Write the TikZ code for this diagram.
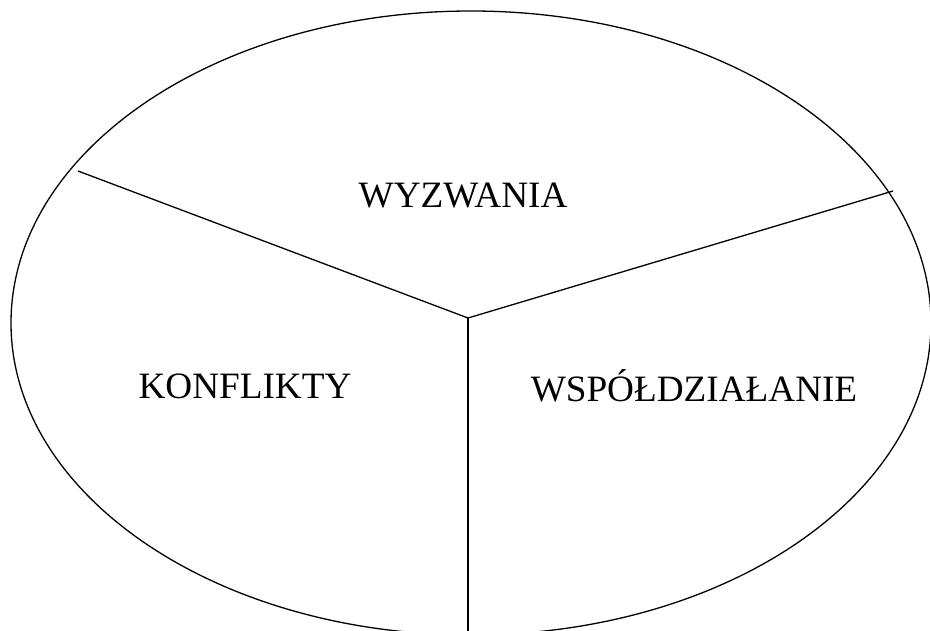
\documentclass[tikz,border=0pt]{standalone}
\usepackage{fontspec}
\setmainfont{Liberation Serif}
\usetikzlibrary{positioning}

\begin{document}
\begin{tikzpicture}[x=1pt,y=-1pt,line width=1.3pt,
    label/.style={font=\fontsize{37.2}{44}\selectfont,inner sep=0pt}]
%    ellipse split in three parts
    \useasboundingbox (0,0) rectangle (930,631);
    \clip (0,0) rectangle (930,631);
    \draw (471,323) ellipse [x radius=460, y radius=312];
    \coordinate (hub) at (468,318);
    \coordinate (left) at (78,171);
    \coordinate (right) at (893,191);
    \coordinate (down) at (468,640);
    \draw (left) -- (hub) -- (right);
    \draw (hub) -- (down);
    \node[label] (wyzwania) at (463,196) {WYZWANIA};
    \node[label] (konflikty) at (245,386) {KONFLIKTY};
    \node[label] (wspol) at (694,386) {WSPÓŁDZIAŁANIE};
\end{tikzpicture}
\end{document}
